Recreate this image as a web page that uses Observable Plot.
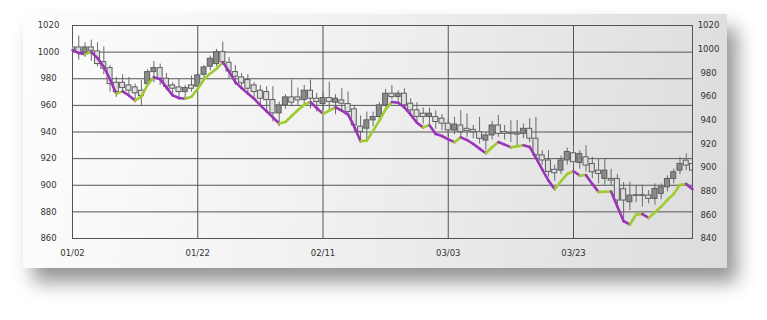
<!DOCTYPE html>
<html>
<head>
<meta charset="utf-8">
<script src="https://cdn.jsdelivr.net/npm/d3@7"></script>
<script src="https://cdn.jsdelivr.net/npm/@observablehq/plot@0.6"></script>
<style>
  html, body { margin: 0; padding: 0; background: #ffffff; width: 767px; height: 320px; overflow: hidden; }
  #panel {
    position: absolute; left: 23px; top: 14px; width: 704px; height: 254px;
    background: linear-gradient(100deg, #fdfdfd 0%, #f2f2f2 40%, #dcdcdc 100%);
    box-shadow: 10px 14px 18px rgba(0,0,0,0.42);
  }
  #chart { position: absolute; left: 0; top: 0; }
  #chart svg { background: transparent; }
</style>
</head>
<body>
<div id="panel"></div>
<div id="chart"></div>
<script>
// ---- data ----
const startDate = "2013-01-02";
const open  = [1003.5,1003.5,999.5,1003.5,1000.5,992.5,988,977,977,975,973.5,971,976,985,988,980,975,973.5,970,975,
               974,983,989,991,1000,992,985,981,979,975,971,970,964,954,960,966,966,964,971,965,
               961,965.5,962,963.75,961,957,944,942.5,948.75,951.25,960,968.75,966.25,968.75,961.25,956.25,953.75,951.25,951.25,950,
               946.25,941.1,944.9,942.4,941.6,939.9,933.6,937.4,944.9,939.9,939,939,938.6,942.4,935,922.4,918.6,911.6,911,918.6,
               924,916.75,921,916,911,904.75,904.75,904.75,897,887.25,892,892.5,892.25,889.75,893.5,898.5,904.75,911,918.5,916];
const high  = [1006,1012,1007,1009,1007,1004,990,981,983,981,976,979,987,993,991,984,977,980,975,982,
               984,990,997,1002,1007.5,996,990,984,983,977,975,974,974,962.5,968,979,973,975,979,969,
               970,977.5,968,972.5,970,960,952,955,955,962,972,975,971,972.5,965,962,958,958,956,953,
               949,951,956,953.6,945,951,940,948,952.4,944.9,948.6,948.6,946,950,951,926,926,915,922,928,
               930,926,929.75,921,919.75,919.75,912,908,902,902.25,900,900,896,901,901,907,912,921,923.5,922];
const low   = [999,994,996,993,989,983,970,966,969,968,962,959,974,977,975,971,968,964,965,970,
               972,980,986,989,990,980,975,973,968,966,960,956,947.5,944,957,959,960,961,957.5,955,
               956,955,953,955,953,940,934,932.5,944,949,957,964,963,957,952,947,946,944,942,941,
               936,938,936,936,935,931,926,934,936,934,932,928.6,935,932,920,915,906,903,908,915,
               913,912,910,905,901,900,899.75,885,873.5,881,887,883.5,886,885,889,895,901,908,911,908];
const close = [1001.8,999.5,1003.5,1001,991,987.5,976,970,973,971,969,967,985,988,980,974,972.5,970,973,972.5,
               982.5,988.5,995,1000,992.5,985.5,981.5,976.5,972.5,970,965,964,954,960,966,962,963.75,971,965,962.5,
               965.5,962.5,965,961.25,955,945,940,948.75,951.25,960,968.75,966.25,968.75,960,956.25,951.25,951.25,953.75,947.5,946.25,
               941.25,945.6,939.9,940.6,939.9,934.9,937.4,944.9,938.6,938.6,938.6,938,942.4,935,922.4,918.6,910,909,918.6,925,
               917.3,923.5,914.75,909.75,908.5,911,903.5,888.5,888.5,892.25,892.5,892,889.75,897.25,898.5,904.75,909.75,916,914.75,911];
const lineValues = [1001.5,999.3,998.5,1000,995.5,989,979.5,968.7,970.5,967.5,963.7,966.5,975.5,981.2,979.7,973.5,967.5,965.5,965,966.5,
               972.5,979.5,984,987.5,992.5,985.5,977.5,973,969,965,960,955.5,951,946.4,947.5,952,956.5,960.5,962.5,958,
               953.6,956,958.6,956,953,944,933,933.5,941,948.5,957,962.5,962,958.5,953,947,943.5,945,938.5,937,
               934.5,932.4,936,934,931,927.5,924,928.5,932.5,930.5,928.5,929.2,930,928.8,920.5,912,903.5,897,903,908.5,
               910.5,907.3,907.6,901,895,895.1,895.3,884,873,870.5,878,878.3,875.5,879.5,884,889,893.5,900.3,901,897];
const leftTicks  = [860, 880, 900, 920, 940, 960, 980, 1000, 1020];
const rightTicks = [840, 860, 880, 900, 920, 940, 960, 980, 1000, 1020];
const xTickDates  = ["2013-01-02", "2013-01-22", "2013-02-11", "2013-03-03", "2013-03-23"];
const xTickLabels = ["01/02", "01/22", "02/11", "03/03", "03/23"];
const endDate = "2013-04-11";

// ---- build ----
const t0 = new Date(startDate);
const dates = open.map((_, i) => d3.utcDay.offset(t0, i));
const candles = dates.map((date, i) => ({date, open: open[i], high: high[i], low: low[i], close: close[i], up: close[i] > open[i]}));
const segs = lineValues.slice(1).map((v, i) => ({x1: dates[i], y1: lineValues[i], x2: dates[i + 1], y2: v, up: v >= lineValues[i]}));
const xTicks = xTickDates.map(s => new Date(s));
const half = 0.4 * 864e5;
const lMin = d3.min(leftTicks), lMax = d3.max(leftTicks);
const rMin = d3.min(rightTicks), rMax = d3.max(rightTicks);
const rightToLeft = v => lMax - (rMax - v) * (lMax - lMin) / (rMax - rMin);

const grid = "#555555";
const font = "DejaVu Sans, Verdana, sans-serif";

const chart = Plot.plot({
  width: 767, height: 320,
  marginLeft: 72, marginRight: 75, marginTop: 25, marginBottom: 82,
  style: {background: "transparent", fontFamily: font, fontSize: "8.5px", color: "#333"},
  x: {type: "utc", domain: [new Date(startDate), new Date(endDate)], axis: null},
  y: {domain: [lMin, lMax], axis: null},
  color: {type: "identity"},
  marks: [
    Plot.ruleY(leftTicks, {stroke: grid, strokeWidth: 1}),
    Plot.ruleX(xTicks, {stroke: grid, strokeWidth: 1}),
    Plot.frame({stroke: grid, strokeWidth: 1}),
    Plot.ruleX(candles, {x: "date", y1: "low", y2: "high", stroke: "#6a6a6a", strokeWidth: 1, clip: true}),
    Plot.rect(candles, {
      x1: d => new Date(+d.date - half), x2: d => new Date(+d.date + half),
      y1: "open", y2: "close",
      fill: d => d.up ? "#8a8a8a" : "#dedede",
      stroke: "#5e5e5e", strokeWidth: 1, clip: true
    }),
    Plot.link(segs, {x1: "x1", y1: "y1", x2: "x2", y2: "y2",
      stroke: d => d.up ? "#9fcb2e" : "#9b35b8", strokeWidth: 2.6, strokeLinecap: "round"}),
    Plot.text(leftTicks, {y: d => d, text: d => String(d), frameAnchor: "left", dx: -24, textAnchor: "middle", fill: "#333"}),
    Plot.text(rightTicks, {y: d => rightToLeft(d), text: d => String(d), frameAnchor: "right", dx: 16, textAnchor: "middle", fill: "#333"}),
    Plot.text(xTicks, {x: d => d, text: (d, i) => xTickLabels[i], frameAnchor: "bottom", dy: 17, textAnchor: "middle", fill: "#333"})
  ]
});
document.getElementById("chart").appendChild(chart);
</script>
</body>
</html>
